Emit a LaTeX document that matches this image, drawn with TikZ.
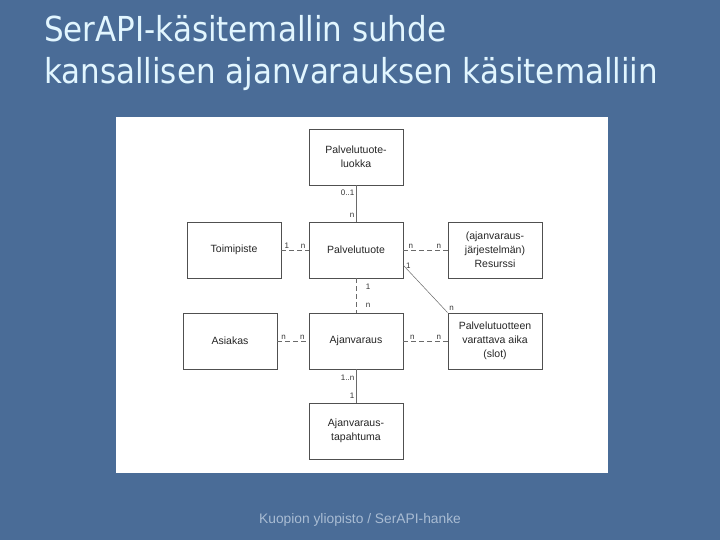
\documentclass[tikz,border=0pt]{standalone}
\usepackage{fontspec}
\setmainfont{Liberation Sans}
\newfontfamily\titlefont{DejaVu Sans Condensed}
\usepackage{tikz}
\usetikzlibrary{positioning,calc}
\definecolor{bg}{HTML}{4A6C97}
\definecolor{ttl}{HTML}{E2F6FF}
\definecolor{foot}{HTML}{A9BCD3}
\definecolor{ln}{HTML}{505050}
\tikzset{
  ent/.style={draw=ln,line width=0.9pt,minimum width=94pt,minimum height=56pt,inner sep=1pt,align=center,font=\fontsize{10.5}{14}\selectfont,text=black!85,fill=white},
  lab/.style={font=\fontsize{8}{9}\selectfont,inner sep=1.5pt,text=black!80},
  rel/.style={draw=ln!85,line width=0.6pt},
  drel/.style={rel,dash pattern=on 5pt off 3pt},
  ttlline/.style={anchor=base west,inner sep=0pt,text=ttl,font=\titlefont\fontsize{34.4}{40}\selectfont},
}
\begin{document}
\begin{tikzpicture}[x=1pt,y=-1pt]
\useasboundingbox (0,0) rectangle (720,540);
\fill[bg] (0,0) rectangle (720,540);
\fill[white] (116,117) rectangle (608,473);
\node[ttlline] (title1) at (44,42) {SerAPI-käsitemallin suhde};
\node[ttlline] (title2) at (44,84) {kansallisen ajanvarauksen käsitemalliin};
\node[ent] (luokka) at (356,157) {Palvelutuote-\\luokka};
\node[ent] (toimi) at (234,250) {Toimipiste};
\node[ent] (tuote) at (356,250) {Palvelutuote};
\node[ent] (resurssi) at (495,250) {(ajanvaraus-\\järjestelmän)\\Resurssi};
\node[ent] (asiakas) at (230,341) {Asiakas};
\node[ent] (varaus) at (356,341) {Ajanvaraus};
\node[ent] (slot) at (495,341) {Palvelutuotteen\\varattava aika\\(slot)};
\node[ent] (tapahtuma) at (356,431) {Ajanvaraus-\\tapahtuma};
\draw[rel] (luokka) -- node[lab,pos=0.2,left]{0..1} node[lab,pos=0.82,left]{n} (tuote);
\draw[drel] (toimi) -- node[lab,pos=0.2,above]{1} node[lab,pos=0.8,above]{n} (tuote);
\draw[drel] (tuote) -- node[lab,pos=0.17,above]{n} node[lab,pos=0.8,above]{n} (resurssi);
\draw[drel] (tuote) -- node[lab,pos=0.25,right=8pt]{1} node[lab,pos=0.78,right=8pt]{n} (varaus);
\draw[rel,line width=0.5pt] (tuote.-18) -- node[lab,pos=0,anchor=west,xshift=1pt]{1} node[lab,pos=1,anchor=south west]{n} (slot.north west);
\draw[drel] (asiakas) -- node[lab,pos=0.2,above]{n} node[lab,pos=0.8,above]{n} (varaus);
\draw[drel] (varaus) -- node[lab,pos=0.2,above]{n} node[lab,pos=0.8,above]{n} (slot);
\draw[rel] (varaus) -- node[lab,pos=0.25,left]{1..n} node[lab,pos=0.8,left]{1} (tapahtuma);
\node[anchor=base,font=\fontsize{13.8}{16}\selectfont,text=foot] (foot) at (360,523) {Kuopion yliopisto / SerAPI-hanke};
\end{tikzpicture}
\end{document}
